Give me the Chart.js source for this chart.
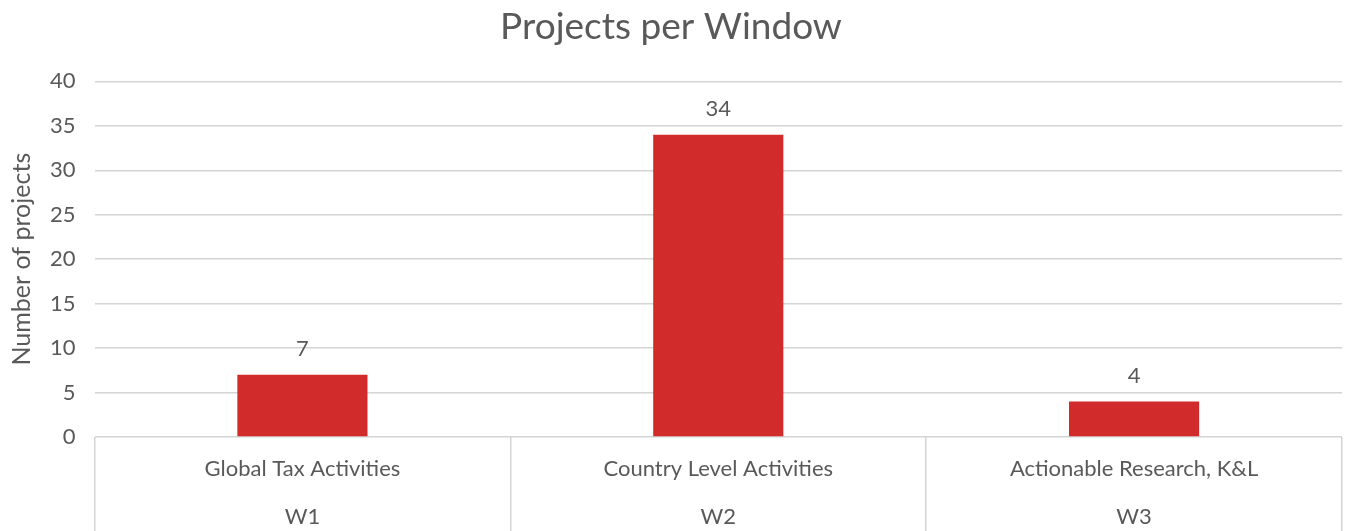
<!DOCTYPE html>
<html>
<head>
<meta charset="utf-8">
<script src="https://cdn.jsdelivr.net/npm/chart.js@4/dist/chart.umd.min.js"></script>
<style>
  html, body { margin: 0; padding: 0; background: #fff; overflow: hidden; }
  #wrap { width: 1347px; height: 531px; position: relative; }
</style>
</head>
<body>
<div id="wrap"><canvas id="windowChart"></canvas></div>
<script>
const windows = ["W1", "W2", "W3"];
const activities = ["Global Tax Activities", "Country Level Activities", "Actionable Research, K&L"];
const projectCounts = [7, 34, 4];
const yTicks = [0, 5, 10, 15, 20, 25, 30, 35, 40];

const textGrey = "#595959";
const gridGrey = "#d4d4d4";
const fontFamily = "Lato, 'Open Sans', sans-serif";

// value printed above each bar
const barValues = {
  id: "barValues",
  afterDatasetsDraw(chart) {
    const ctx = chart.ctx;
    const meta = chart.getDatasetMeta(0);
    ctx.save();
    ctx.font = "22px " + fontFamily;
    ctx.fillStyle = textGrey;
    ctx.textAlign = "center";
    ctx.textBaseline = "middle";
    meta.data.forEach((bar, i) => {
      ctx.fillText(String(projectCounts[i]), bar.x, bar.y - 26);
    });
    ctx.restore();
  }
};

document.addEventListener("DOMContentLoaded", () => {
  new Chart(document.getElementById("windowChart"), {
    type: "bar",
    data: {
      labels: activities.map((a, i) => [a, windows[i]]),
      datasets: [{
        label: "Projects",
        data: projectCounts,
        backgroundColor: "#d12b2b",
        borderWidth: 0,
        categoryPercentage: 1,
        barPercentage: 0.313
      }]
    },
    options: {
      responsive: true,
      maintainAspectRatio: false,
      animation: false,
      // the category axis runs off the bottom edge, its labels sit in this padding
      layout: { padding: { left: 0, right: 5, top: 0, bottom: 94 } },
      plugins: {
        legend: { display: false },
        tooltip: { enabled: false },
        title: {
          display: true,
          text: "Projects per Window",
          color: textGrey,
          font: { family: fontFamily, size: 37, weight: "normal" },
          padding: { top: 5, bottom: 32 }
        }
      },
      scales: {
        x: {
          border: { display: false },
          grid: {
            offset: true,
            drawOnChartArea: false,
            drawTicks: true,
            tickLength: 112,
            color: gridGrey,
            lineWidth: 1.5
          },
          ticks: {
            color: textGrey,
            font: { family: fontFamily, size: 22, lineHeight: 2.18 },
            padding: -56,
            mirror: true,
            maxRotation: 0,
            autoSkip: false
          }
        },
        y: {
          min: 0,
          max: 40,
          afterBuildTicks: (scale) => { scale.ticks = yTicks.map(v => ({ value: v })); },
          border: { display: false },
          grid: { color: gridGrey, lineWidth: 1.5, drawTicks: false },
          ticks: {
            color: textGrey,
            font: { family: fontFamily, size: 22 },
            padding: 19
          },
          title: {
            display: true,
            text: "Number of projects",
            color: textGrey,
            font: { family: fontFamily, size: 25 },
            padding: { top: 7, bottom: -6 }
          }
        }
      }
    },
    plugins: [barValues]
  });
});
</script>
</body>
</html>
